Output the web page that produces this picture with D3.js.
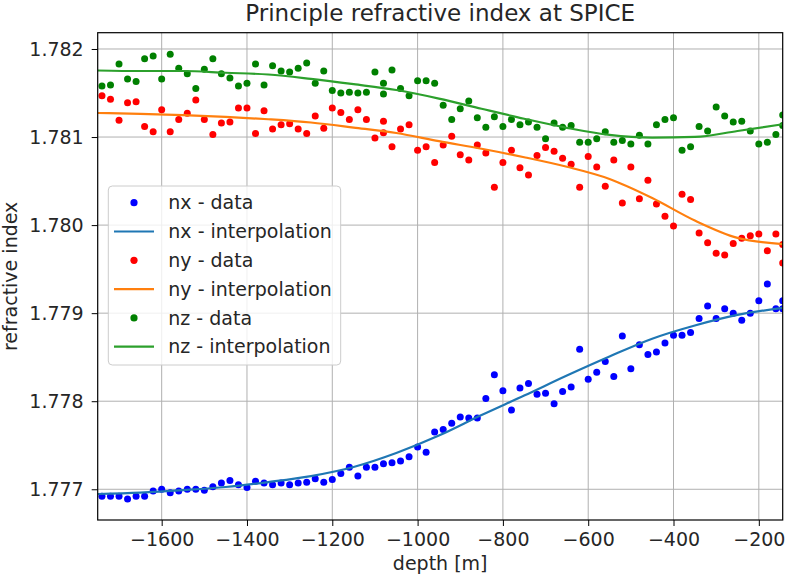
<!DOCTYPE html>
<html>
<head>
<meta charset="utf-8">
<script src="https://cdn.jsdelivr.net/npm/d3@7"></script>
<style>
  body { margin: 0; background: #fff; }
  text { font-family: "DejaVu Sans", sans-serif; }
</style>
</head>
<body>
<div id="my_dataviz"></div>
<script>
// measured depths [m]
var depthX = [-1740,-1720,-1700,-1680,-1660,-1640,-1620,-1600,-1580,-1560,-1540,-1520,-1500,-1480,-1460,-1440,-1420,-1400,-1380,-1360,
  -1340,-1320,-1300,-1280,-1260,-1240,-1220,-1200,-1180,-1160,-1140,-1120,-1100,-1080,-1060,-1040,-1020,-1000,-980,-960,
  -940,-920,-900,-880,-860,-840,-820,-800,-780,-760,-740,-720,-700,-680,-660,-640,-620,-600,-580,-560,
  -540,-520,-500,-480,-460,-440,-420,-400,-380,-360,-340,-320,-300,-280,-260,-240,-220,-200,-180,-160,-144,-144];
var depthYZ = [-1740,-1720,-1700,-1680,-1660,-1640,-1620,-1600,-1580,-1560,-1540,-1520,-1500,-1480,-1460,-1440,-1420,-1400,-1380,-1360,
  -1340,-1320,-1300,-1280,-1260,-1240,-1220,-1200,-1180,-1160,-1140,-1120,-1100,-1080,-1080,-1060,-1040,-1020,-1000,-980,-960,
  -940,-920,-900,-880,-860,-840,-820,-800,-780,-760,-740,-720,-700,-680,-660,-640,-620,-600,-580,-560,
  -540,-520,-500,-480,-460,-440,-420,-400,-380,-360,-340,-320,-300,-280,-260,-240,-220,-200,-180,-160,-144,-144];

var nx = [1.77692,1.77692,1.77692,1.77689,1.77692,1.77692,1.77698,1.77700,1.77696,1.77698,
  1.77700,1.77700,1.77699,1.77703,1.77707,1.77710,1.77705,1.77702,1.77709,1.77707,
  1.77705,1.77707,1.77705,1.77707,1.77708,1.77712,1.77708,1.77711,1.77718,1.77725,
  1.77715,1.77725,1.77725,1.77729,1.77730,1.77732,1.77737,1.77748,1.77742,1.77765,
  1.77768,1.77775,1.77782,1.77781,1.77781,1.77803,1.77830,1.77812,1.77790,1.77815,
  1.77820,1.77808,1.77809,1.77797,1.77811,1.77816,1.77859,1.77825,1.77833,1.77845,
  1.77828,1.77874,1.77837,1.77864,1.77853,1.77856,1.77866,1.77875,1.77875,1.77878,
  1.77894,1.77908,1.77894,1.77905,1.77900,1.77892,1.77900,1.77914,1.77933,1.77905,
  1.77914,1.77905];
var ny = [1.78147,1.78143,1.78119,1.78139,1.78140,1.78112,1.78106,1.78131,1.78106,1.78120,
  1.78127,1.78142,1.78120,1.78103,1.78116,1.78117,1.78133,1.78133,1.78104,1.78130,
  1.78109,1.78114,1.78115,1.78109,1.78104,1.78124,1.78110,1.78133,1.78128,1.78120,
  1.78131,1.78120,1.78099,1.78118,1.78105,1.78089,1.78109,1.78114,1.78085,1.78089,
  1.78071,1.78091,1.78101,1.78080,1.78074,1.78091,1.78082,1.78043,1.78071,1.78085,
  1.78065,1.78057,1.78079,1.78088,1.78084,1.78076,1.78069,1.78043,1.78078,1.78066,
  1.78044,1.78074,1.78025,1.78066,1.78030,1.78051,1.78024,1.78010,1.77999,1.78035,
  1.78029,1.77991,1.77980,1.77968,1.77966,1.77979,1.77985,1.77988,1.77990,1.77971,
  1.77990,1.77978,1.77957];
var nz = [1.78158,1.78159,1.78183,1.78166,1.78163,1.78189,1.78192,1.78166,1.78194,1.78178,
  1.78172,1.78155,1.78177,1.78189,1.78172,1.78167,1.78158,1.78161,1.78183,1.78159,
  1.78181,1.78175,1.78174,1.78178,1.78184,1.78161,1.78175,1.78153,1.78150,1.78151,
  1.78150,1.78151,1.78174,1.78161,1.78149,1.78176,1.78155,1.78147,1.78164,1.78164,
  1.78161,1.78136,1.78120,1.78132,1.78141,1.78122,1.78111,1.78123,1.78112,1.78120,
  1.78114,1.78117,1.78111,1.78098,1.78116,1.78111,1.78113,1.78094,1.78094,1.78098,
  1.78106,1.78094,1.78096,1.78092,1.78102,1.78092,1.78114,1.78120,1.78122,1.78085,
  1.78089,1.78112,1.78107,1.78134,1.78124,1.78117,1.78118,1.78107,1.78092,1.78094,
  1.78103,1.78125,1.78113];

// interpolation curves
var fitDepth = [-1750,-1650,-1550,-1450,-1350,-1250,-1150,-1050,-950,-850,-750,-650,-550,-450,-350,-250,-144];
var nxFit = [1.776946,1.776963,1.776991,1.777026,1.777082,1.77715,1.777253,1.777412,1.77761,1.777843,1.778064,1.778292,1.778508,1.77871,1.77886,1.77898,1.77906];
var nyFit = [1.781273,1.781264,1.78125,1.78123,1.781202,1.781165,1.781108,1.781046,1.780953,1.780867,1.780771,1.780662,1.780524,1.780308,1.780052,1.779855,1.779785];
var nzFit = [1.781756,1.78175,1.78175,1.78173,1.78171,1.78166,1.7816,1.781534,1.781437,1.781321,1.781208,1.781105,1.781024,1.780994,1.781001,1.781069,1.781145];

var xTicks = [-1600,-1400,-1200,-1000,-800,-600,-400,-200];
var yTicks = [1.777,1.778,1.779,1.780,1.781,1.782];

var margin = { top: 32.7, right: 2.3, bottom: 56, left: 97.7 },
    width = 785 - margin.left - margin.right,
    height = 576 - margin.top - margin.bottom;

var svg = d3.select("#my_dataviz")
    .append("svg")
    .attr("width", 785)
    .attr("height", 576)
    .append("g")
    .attr("transform", "translate(" + margin.left + "," + margin.top + ")");

var x = d3.scaleLinear().domain([-1750, -144]).range([0, width]);
var y = d3.scaleLinear().domain([1.776651, 1.782185]).range([height, 0]);

// grid
svg.append("g").selectAll("line").data(xTicks).enter().append("line")
    .attr("x1", function(d) { return x(d); }).attr("x2", function(d) { return x(d); })
    .attr("y1", 0).attr("y2", height)
    .attr("stroke", "#b0b0b0").attr("stroke-width", 1);
svg.append("g").selectAll("line").data(yTicks).enter().append("line")
    .attr("y1", function(d) { return y(d); }).attr("y2", function(d) { return y(d); })
    .attr("x1", 0).attr("x2", width)
    .attr("stroke", "#b0b0b0").attr("stroke-width", 1);

svg.append("defs").append("clipPath").attr("id", "clip")
    .append("rect").attr("width", width).attr("height", height);

var plot = svg.append("g").attr("clip-path", "url(#clip)");

var line = d3.line()
    .x(function(d) { return x(d[0]); })
    .y(function(d) { return y(d[1]); })
    .curve(d3.curveMonotoneX);

var series = [
    { depth: depthX, vals: nx, fit: nxFit, dot: "#0000ff", col: "#1f77b4", name: "nx" },
    { depth: depthYZ, vals: ny, fit: nyFit, dot: "#ff0000", col: "#ff7f0e", name: "ny" },
    { depth: depthYZ, vals: nz, fit: nzFit, dot: "#008000", col: "#2ca02c", name: "nz" }
];

series.forEach(function(s) {
    plot.append("g").selectAll("circle")
        .data(s.vals)
        .enter()
        .append("circle")
        .attr("cx", function(d, i) { return x(s.depth[i]); })
        .attr("cy", function(d) { return y(d); })
        .attr("r", 3.5)
        .attr("fill", s.dot);

    plot.append("path")
        .datum(fitDepth.map(function(d, i) { return [d, s.fit[i]]; }))
        .attr("d", line)
        .attr("fill", "none")
        .attr("stroke", s.col)
        .attr("stroke-width", 2.2);
});

// axes
var xAxis = svg.append("g")
    .attr("transform", "translate(0," + height + ")")
    .call(d3.axisBottom(x).tickValues(xTicks).tickFormat(d3.format("d")).tickSize(6).tickPadding(7).tickSizeOuter(0));
var yAxis = svg.append("g")
    .call(d3.axisLeft(y).tickValues(yTicks).tickFormat(d3.format(".3f")).tickSize(6).tickPadding(8).tickSizeOuter(0));
[xAxis, yAxis].forEach(function(a) {
    a.select(".domain").remove();
    a.selectAll("text").style("font-size", "19px").style("fill", "#262626").attr("font-family", "DejaVu Sans");
    a.selectAll("line").attr("stroke", "#000").attr("stroke-width", 1);
});

// frame
svg.append("rect")
    .attr("width", width)
    .attr("height", height)
    .attr("fill", "none")
    .attr("stroke", "#000")
    .attr("stroke-width", 1.2);

// legend
var legend = svg.append("g").attr("transform", "translate(" + (108.3 - margin.left) + "," + (186 - margin.top) + ")");
legend.append("rect")
    .attr("width", 232.4).attr("height", 179)
    .attr("rx", 4)
    .attr("fill", "#fff").attr("fill-opacity", 0.8)
    .attr("stroke", "#cccccc");

var entries = [];
series.forEach(function(s) {
    entries.push({ label: s.name + " - data", type: "dot", color: s.dot });
    entries.push({ label: s.name + " - interpolation", type: "line", color: s.col });
});

var rows = legend.selectAll("g.row").data(entries).enter().append("g")
    .attr("class", "row")
    .attr("transform", function(d, i) { return "translate(0," + (16.7 + i * 28.8) + ")"; });
rows.filter(function(d) { return d.type === "dot"; }).append("circle")
    .attr("cx", 25.7).attr("cy", 0).attr("r", 3.6)
    .attr("fill", function(d) { return d.color; });
rows.filter(function(d) { return d.type === "line"; }).append("line")
    .attr("x1", 5.7).attr("x2", 45.7).attr("y1", 0).attr("y2", 0)
    .attr("stroke", function(d) { return d.color; }).attr("stroke-width", 2.2);
rows.append("text")
    .attr("x", 60).attr("y", 0).attr("dy", "0.35em")
    .style("font-size", "19px")
    .style("fill", "#262626")
    .text(function(d) { return d.label; });

// labels
svg.append("text")
    .attr("x", width / 2)
    .attr("y", -12)
    .attr("text-anchor", "middle")
    .style("font-size", "23px")
    .style("fill", "#262626")
    .text("Principle refractive index at SPICE");

svg.append("text")
    .attr("x", width / 2)
    .attr("y", height + 50.5)
    .attr("text-anchor", "middle")
    .style("font-size", "19px")
    .style("fill", "#262626")
    .text("depth [m]");

svg.append("text")
    .attr("transform", "rotate(-90)")
    .attr("x", -height / 2)
    .attr("y", -81)
    .attr("text-anchor", "middle")
    .style("font-size", "19px")
    .style("fill", "#262626")
    .text("refractive index");
</script>
</body>
</html>
